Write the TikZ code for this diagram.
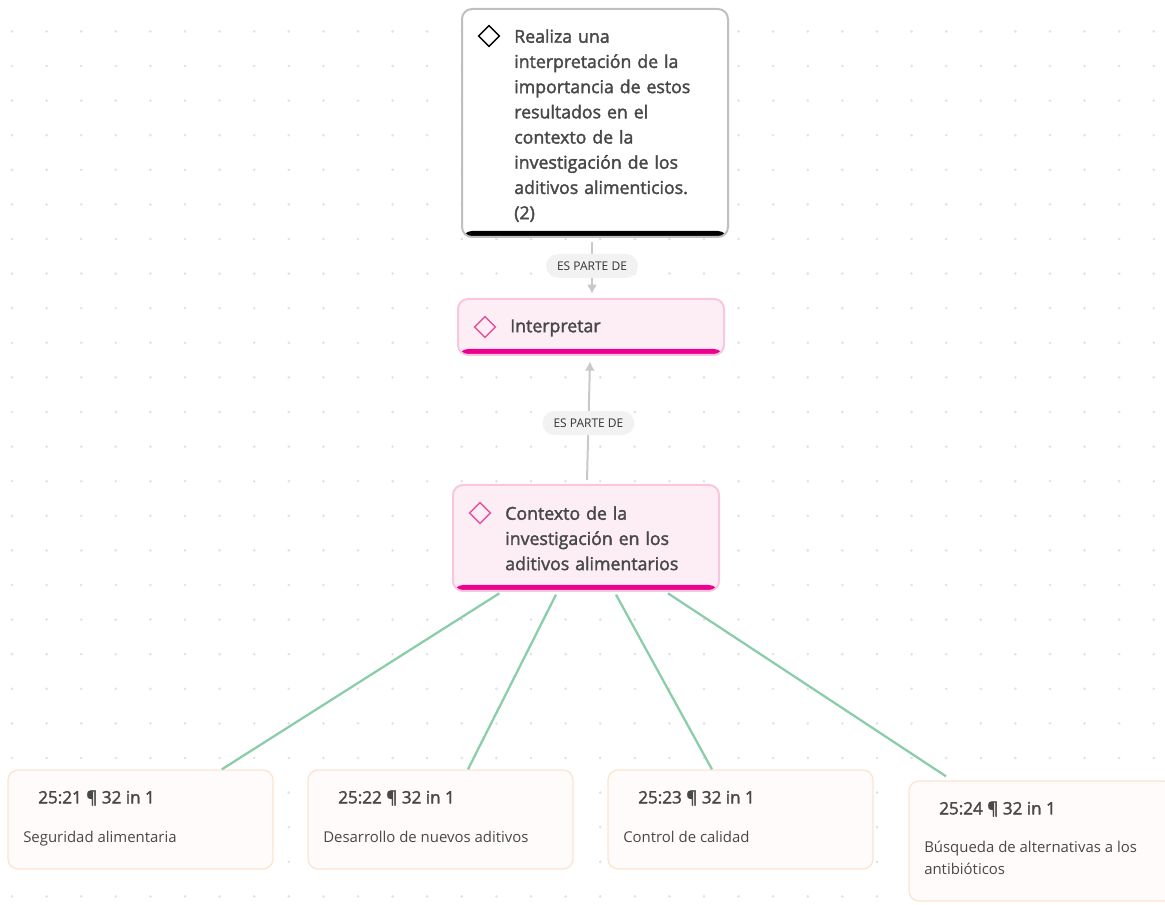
\documentclass[tikz,border=0pt]{standalone}
\usepackage{fontspec}
\setmainfont{Open Sans}
\newfontfamily\semifont[FakeBold=2]{Open Sans}
\usetikzlibrary{positioning,arrows.meta,shapes.geometric}
\definecolor{dotgray}{HTML}{E2E2E2}
\definecolor{linkgray}{HTML}{C9C9C9}
\definecolor{pillgray}{HTML}{F2F2F2}
\definecolor{inkgray}{HTML}{484848}
\definecolor{pinkfill}{HTML}{FDEEF6}
\definecolor{pinkedge}{HTML}{F9C6DF}
\definecolor{pinkbar}{HTML}{EC008C}
\definecolor{pinkmark}{HTML}{E6529B}
\definecolor{peachfill}{HTML}{FEFBFA}
\definecolor{peachedge}{HTML}{FBE5D2}
\definecolor{quotegreen}{HTML}{8ACDA9}
\tikzset{
  frame/.style={
    rectangle,
    rounded corners=7.5pt,
    line width=1.5pt,
    inner sep=0pt,
    minimum width=199.5pt
  },
  barred/.style={
    path picture={\fill[#1] (path picture bounding box.south west)
      rectangle ([yshift=4.5pt]path picture bounding box.south east);}
  },
  taskbox/.style={frame,draw=black!25,fill=white,barred=black},
  codebox/.style={frame,draw=pinkedge,fill=pinkfill,barred=pinkbar},
  quotebox/.style={frame,draw=peachedge,fill=peachfill,line width=1pt,minimum width=198.75pt},
  codemark/.style 2 args={diamond,draw=#1,line width=1.1pt,inner sep=0pt,minimum size=16pt,fill=#2},
  titletext/.style={inner sep=0pt,text=inkgray,align=left,
    font=\semifont\fontsize{13.3}{18.9}\selectfont},
  headtext/.style={inner sep=0pt,text=inkgray,anchor=west,
    font=\semifont\fontsize{12.8}{14}\selectfont},
  bodytext/.style={inner sep=0pt,text=inkgray,align=left,anchor=north west,
    font=\fontsize{11.2}{16.5}\selectfont},
  pill/.style={rectangle,rounded corners=9pt,fill=pillgray,text=black!80,
    minimum width=69pt,minimum height=18pt,inner sep=0pt,
    font=\fontsize{9}{10}\selectfont},
  partof/.style={draw=linkgray,line width=1.5pt,-{Latex[length=7pt,width=7.5pt]}},
  quotelink/.style={draw=quotegreen,line width=1.7pt}
}
\begin{document}
\begin{tikzpicture}[x=.75pt,y=-.75pt]
\useasboundingbox (0,0) rectangle (1165,905);
\foreach \i in {0,...,33}
  \foreach \j in {0,...,26}
    \fill[dotgray] ({12+34.6*\i},{31.4+34.6*\j}) circle (1.1pt);

\node[taskbox,minimum height=171pt] at (595,123) (task) {};
\node[codebox,minimum height=42pt] at (591,327) (interp) {};
\node[codebox,minimum height=79.5pt] at (586,538) (context) {};
\node[quotebox,minimum height=74.25pt] at (140.5,819.5) (quote1) {};
\node[quotebox,minimum height=74.25pt] at (440.5,819.5) (quote2) {};
\node[quotebox,minimum height=74.25pt] at (740.5,819.5) (quote3) {};
\node[quotebox,minimum height=90pt] at (1041.5,841) (quote4) {};

\node[codemark={black}{white}] at (489,36) (taskmark) {};
\node[codemark={pinkmark}{pinkfill}] at (485,327) (interpmark) {};
\node[codemark={pinkmark}{pinkfill}] at (480,513) (contextmark) {};

\node[titletext,anchor=north west,text width=170pt] at (514,29) (tasktext)
{Realiza una\\ interpretación de la\\ importancia de estos\\ resultados en el\\ contexto de la\\ investigación de los\\ aditivos alimenticios.\\ (2)};
\node[titletext,anchor=west] at (510,328) (interptext) {Interpretar};
\node[titletext,anchor=north west,text width=170pt] at (505,506) (contexttext)
{Contexto de la\\ investigación en los\\ aditivos alimentarios};

\node[headtext] at (38,798) (head1) {25:21 ¶ 32 in 1};
\node[headtext] at (338,798) (head2) {25:22 ¶ 32 in 1};
\node[headtext] at (638,798) (head3) {25:23 ¶ 32 in 1};
\node[headtext] at (939,809) (head4) {25:24 ¶ 32 in 1};
\node[bodytext] at (23,831) (body1) {Seguridad alimentaria};
\node[bodytext] at (323,831) (body2) {Desarrollo de nuevos aditivos};
\node[bodytext] at (623,831) (body3) {Control de calidad};
\node[bodytext] at (924,841) (body4) {Búsqueda de alternativas a los\\ antibióticos};

\draw[partof] ([shift={(-2.25pt,-3pt)}]task.south) to node[pill,pos=.46] (pill1) {ES PARTE DE} ([shift={(.75pt,3pt)}]interp.north);
\draw[partof] ([shift={(.75pt,3pt)}]context.north) to node[pill,pos=.48] (pill2) {ES PARTE DE} ([shift={(-.75pt,-4pt)}]interp.south);

\draw[quotelink] ([xshift=-65pt,yshift=-1pt]context.south) -- ([xshift=61pt]quote1.north);
\draw[quotelink] ([xshift=-22.5pt,yshift=-2pt]context.south) -- ([xshift=20.6pt]quote2.north);
\draw[quotelink] ([xshift=22.5pt,yshift=-2pt]context.south) -- ([xshift=-21.4pt]quote3.north);
\draw[quotelink] ([xshift=61.5pt,yshift=-1pt]context.south) -- ([xshift=-71.6pt,yshift=3pt]quote4.north);
\end{tikzpicture}
\end{document}
